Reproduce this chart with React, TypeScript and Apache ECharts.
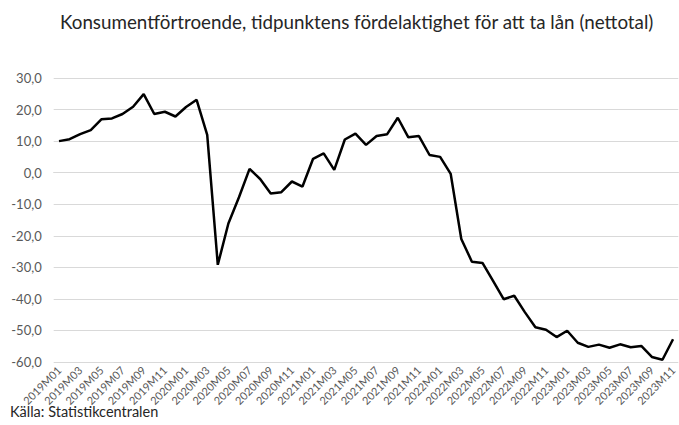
import React, { useEffect, useRef } from "react";
import * as echarts from "echarts";

const titleText = "Konsumentförtroende, tidpunktens fördelaktighet för att ta lån (nettotal)";
const sourceText = "Källa: Statistikcentralen";

const years = ["2019", "2020", "2021", "2022", "2023"];
const months = ["01", "02", "03", "04", "05", "06", "07", "08", "09", "10", "11", "12"];
const categories: string[] = [];
years.forEach((y) => months.forEach((m) => categories.push(`${y}M${m}`)));
categories.pop(); // ends at 2023M11

const values = [
  // 2019
  10.0, 10.6, 12.2, 13.5, 16.9, 17.2, 18.6, 20.9, 24.9, 18.6, 19.3, 17.8,
  // 2020
  20.8, 23.1, 12.0, -29.2, -16.1, -7.8, 1.2, -2.0, -6.6, -6.2, -2.8, -4.4,
  // 2021
  4.4, 6.1, 0.9, 10.5, 12.4, 8.8, 11.6, 12.2, 17.4, 11.2, 11.6, 5.6,
  // 2022
  5.0, -0.4, -21.0, -28.2, -28.6, -34.3, -40.1, -39.0, -44.2, -49.0, -49.8, -52.1,
  // 2023
  -50.1, -53.9, -55.2, -54.5, -55.5, -54.4, -55.3, -54.9, -58.4, -59.3, -52.8,
];

const yMin = -60;
const yMax = 30;
const yStep = 10;

export default function App() {
  const ref = useRef<HTMLDivElement>(null);
  useEffect(() => {
    document.body.style.margin = "0";
    const chart = echarts.init(ref.current!, undefined, { renderer: "svg" });
    const font = "Lato, 'Open Sans', sans-serif";
    chart.setOption({
      animation: false,
      backgroundColor: "#ffffff",
      textStyle: { fontFamily: font },
      title: {
        text: titleText,
        left: 55,
        top: 7,
        textStyle: { fontSize: 18.8, fontWeight: "normal", color: "#262626", fontFamily: font },
      },
      graphic: [
        {
          type: "text",
          left: 10,
          top: 404,
          style: { text: sourceText, fontSize: 14.5, fill: "#262626", fontFamily: font },
        },
      ],
      grid: { left: 53.7, top: 78, width: 630.7, height: 284, containLabel: false },
      xAxis: {
        type: "category",
        data: categories,
        boundaryGap: true,
        axisLine: { show: true, lineStyle: { color: "#d9d9d9" } },
        axisTick: { show: false },
        axisLabel: {
          interval: 1,
          rotate: 45,
          fontSize: 11,
          color: "#595959",
          margin: 6,
          fontFamily: font,
        },
        splitLine: { show: false },
      },
      yAxis: {
        type: "value",
        min: yMin,
        max: yMax,
        interval: yStep,
        axisLine: { show: false },
        axisTick: { show: false },
        axisLabel: {
          fontSize: 13,
          color: "#595959",
          margin: 12,
          fontFamily: font,
          formatter: (v: number) => v.toFixed(1).replace(".", ","),
        },
        splitLine: { lineStyle: { color: "#d9d9d9", width: 1 } },
      },
      series: [
        {
          type: "line",
          data: values,
          symbol: "none",
          lineStyle: { color: "#000000", width: 2.5 },
        },
      ],
    });
    return () => chart.dispose();
  }, []);
  return <div ref={ref} style={{ width: 679, height: 425 }} />;
}
